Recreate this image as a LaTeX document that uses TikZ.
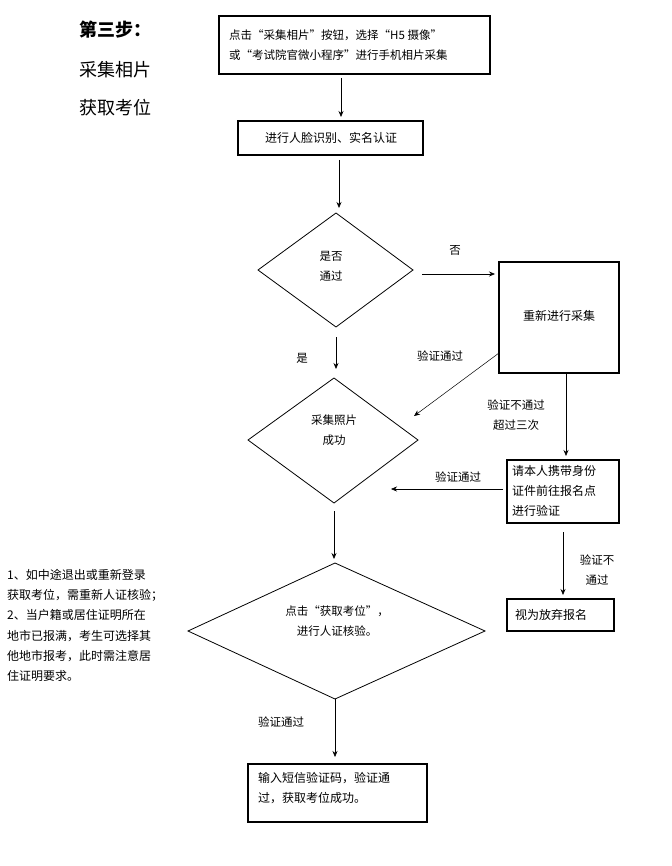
\documentclass[tikz,border=0pt]{standalone}
\usepackage{fontspec}
\setmainfont{Noto Sans CJK SC}
\usetikzlibrary{arrows.meta}
\begin{document}
\begin{tikzpicture}[x=1pt,y=-1pt,
  box/.style={draw,line width=1.2pt,inner sep=0pt},
  dia/.style={draw,line width=0.8pt},
  arr/.style={-{Stealth[length=6pt,width=5pt]},line width=0.7pt},
  lab/.style={font=\fontsize{11.5}{14}\selectfont,align=center},
  txt/.style={font=\fontsize{12}{20}\selectfont}]
\useasboundingbox (0,0) rectangle (671,866);
\node[anchor=west,font=\bfseries\fontsize{18}{20}\selectfont] (t1) at (76,30) {第三步：};
\node[anchor=west,font=\fontsize{18}{20}\selectfont] (t2) at (76,70) {采集相片};
\node[anchor=west,font=\fontsize{18}{20}\selectfont] (t3) at (76,108) {获取考位};
% box1
\draw[box] (219,16) rectangle (490,74);
\node[txt,anchor=west,align=left,font=\fontsize{11.5}{20}\selectfont,inner sep=0pt] (b1) at (229,45) {点击“采集相片”按钮，选择“H5 摄像”\\或“考试院官微小程序”进行手机相片采集};
\coordinate (b1s) at (341,78);
\draw[box] (238,121) rectangle (423,155);
\node[txt] (b2) at (331,138) {进行人脸识别、实名认证};
\coordinate (b2n) at (341,117);
\draw[arr] (b1s) -- (b2n);
\coordinate (b2s) at (339,160); \coordinate (d1n) at (339,208);
\draw[arr] (b2s) -- (d1n);
% diamond1
\draw[dia] (336,213) -- (413,270) -- (336,327) -- (258,270) -- cycle;
\node[lab,font=\fontsize{11.5}{20}\selectfont] (d1) at (331,266) {是否\\通过};
\node[lab] (no) at (455,250) {否};
\coordinate (d1e) at (422,274); \coordinate (b3w) at (495,274);
\draw[arr] (d1e) -- (b3w);
\draw[box] (499,262) rectangle (619,373);
\node[txt] (b3) at (559,316) {重新进行采集};
\node[lab] (yes) at (302,358) {是};
\coordinate (d1s) at (336,337); \coordinate (d2n) at (336,369);
\draw[arr] (d1s) -- (d2n);
% diamond2
\draw[dia] (334,378) -- (418,440) -- (334,503) -- (248,440) -- cycle;
\node[lab,font=\fontsize{11.5}{20}\selectfont] (d2) at (334,430) {采集照片\\成功};
\coordinate (b3a) at (499,353); \coordinate (d2e) at (414,416);
\draw[arr,line width=0.5pt] (b3a) -- (d2e);
\node[lab] (l1) at (440,356) {验证通过};
\coordinate (b3s) at (566,373); \coordinate (b4n) at (566,456);
\draw[arr] (b3s) -- (b4n);
\node[lab,font=\fontsize{11.5}{20}\selectfont] (l2) at (516,415) {验证不通过\\超过三次};
\draw[box] (507,460) rectangle (619,523);
\node[txt,anchor=west,align=left,font=\fontsize{12}{20}\selectfont,inner sep=0pt] (b4) at (512,491) {请本人携带身份\\证件前往报名点\\进行验证};
\coordinate (b4w) at (503,489); \coordinate (d2r) at (391,489);
\draw[arr,line width=0.5pt] (b4w) -- (d2r);
\node[lab] (l3) at (458,477) {验证通过};
\coordinate (d2s) at (334,511); \coordinate (d3n) at (334,559);
\draw[arr] (d2s) -- (d3n);
% diamond3
\draw[dia] (335,563) -- (485,631) -- (335,699) -- (188,631) -- cycle;
\node[lab,font=\fontsize{11.5}{20}\selectfont] (d3) at (337,621) {点击“获取考位”，\\进行人证核验。};
\coordinate (b4s) at (563,532); \coordinate (b5n) at (563,595);
\draw[arr] (b4s) -- (b5n);
\node[lab,font=\fontsize{11.5}{20}\selectfont] (l4) at (597,570) {验证不\\通过};
\draw[box] (507,599) rectangle (614,631);
\node[txt,anchor=west,inner sep=0pt] (b5) at (515,615) {视为放弃报名};
\coordinate (d3s) at (335,699); \coordinate (b6n) at (335,757);
\draw[arr,line width=0.5pt] (d3s) -- (b6n);
\node[lab] (l5) at (281,722) {验证通过};
\draw[box] (248,764) rectangle (427,822);
\node[txt,anchor=west,align=left,inner sep=0pt] (b6) at (258,788) {输入短信验证码，验证通\\过，获取考位成功。};
\node[anchor=north west,align=left,font=\fontsize{12}{20.3}\selectfont,inner sep=0pt] (note) at (7,569) {1、如中途退出或重新登录\\获取考位，需重新人证核验；\\2、当户籍或居住证明所在\\地市已报满，考生可选择其\\他地市报考，此时需注意居\\住证明要求。};
\end{tikzpicture}
\end{document}
